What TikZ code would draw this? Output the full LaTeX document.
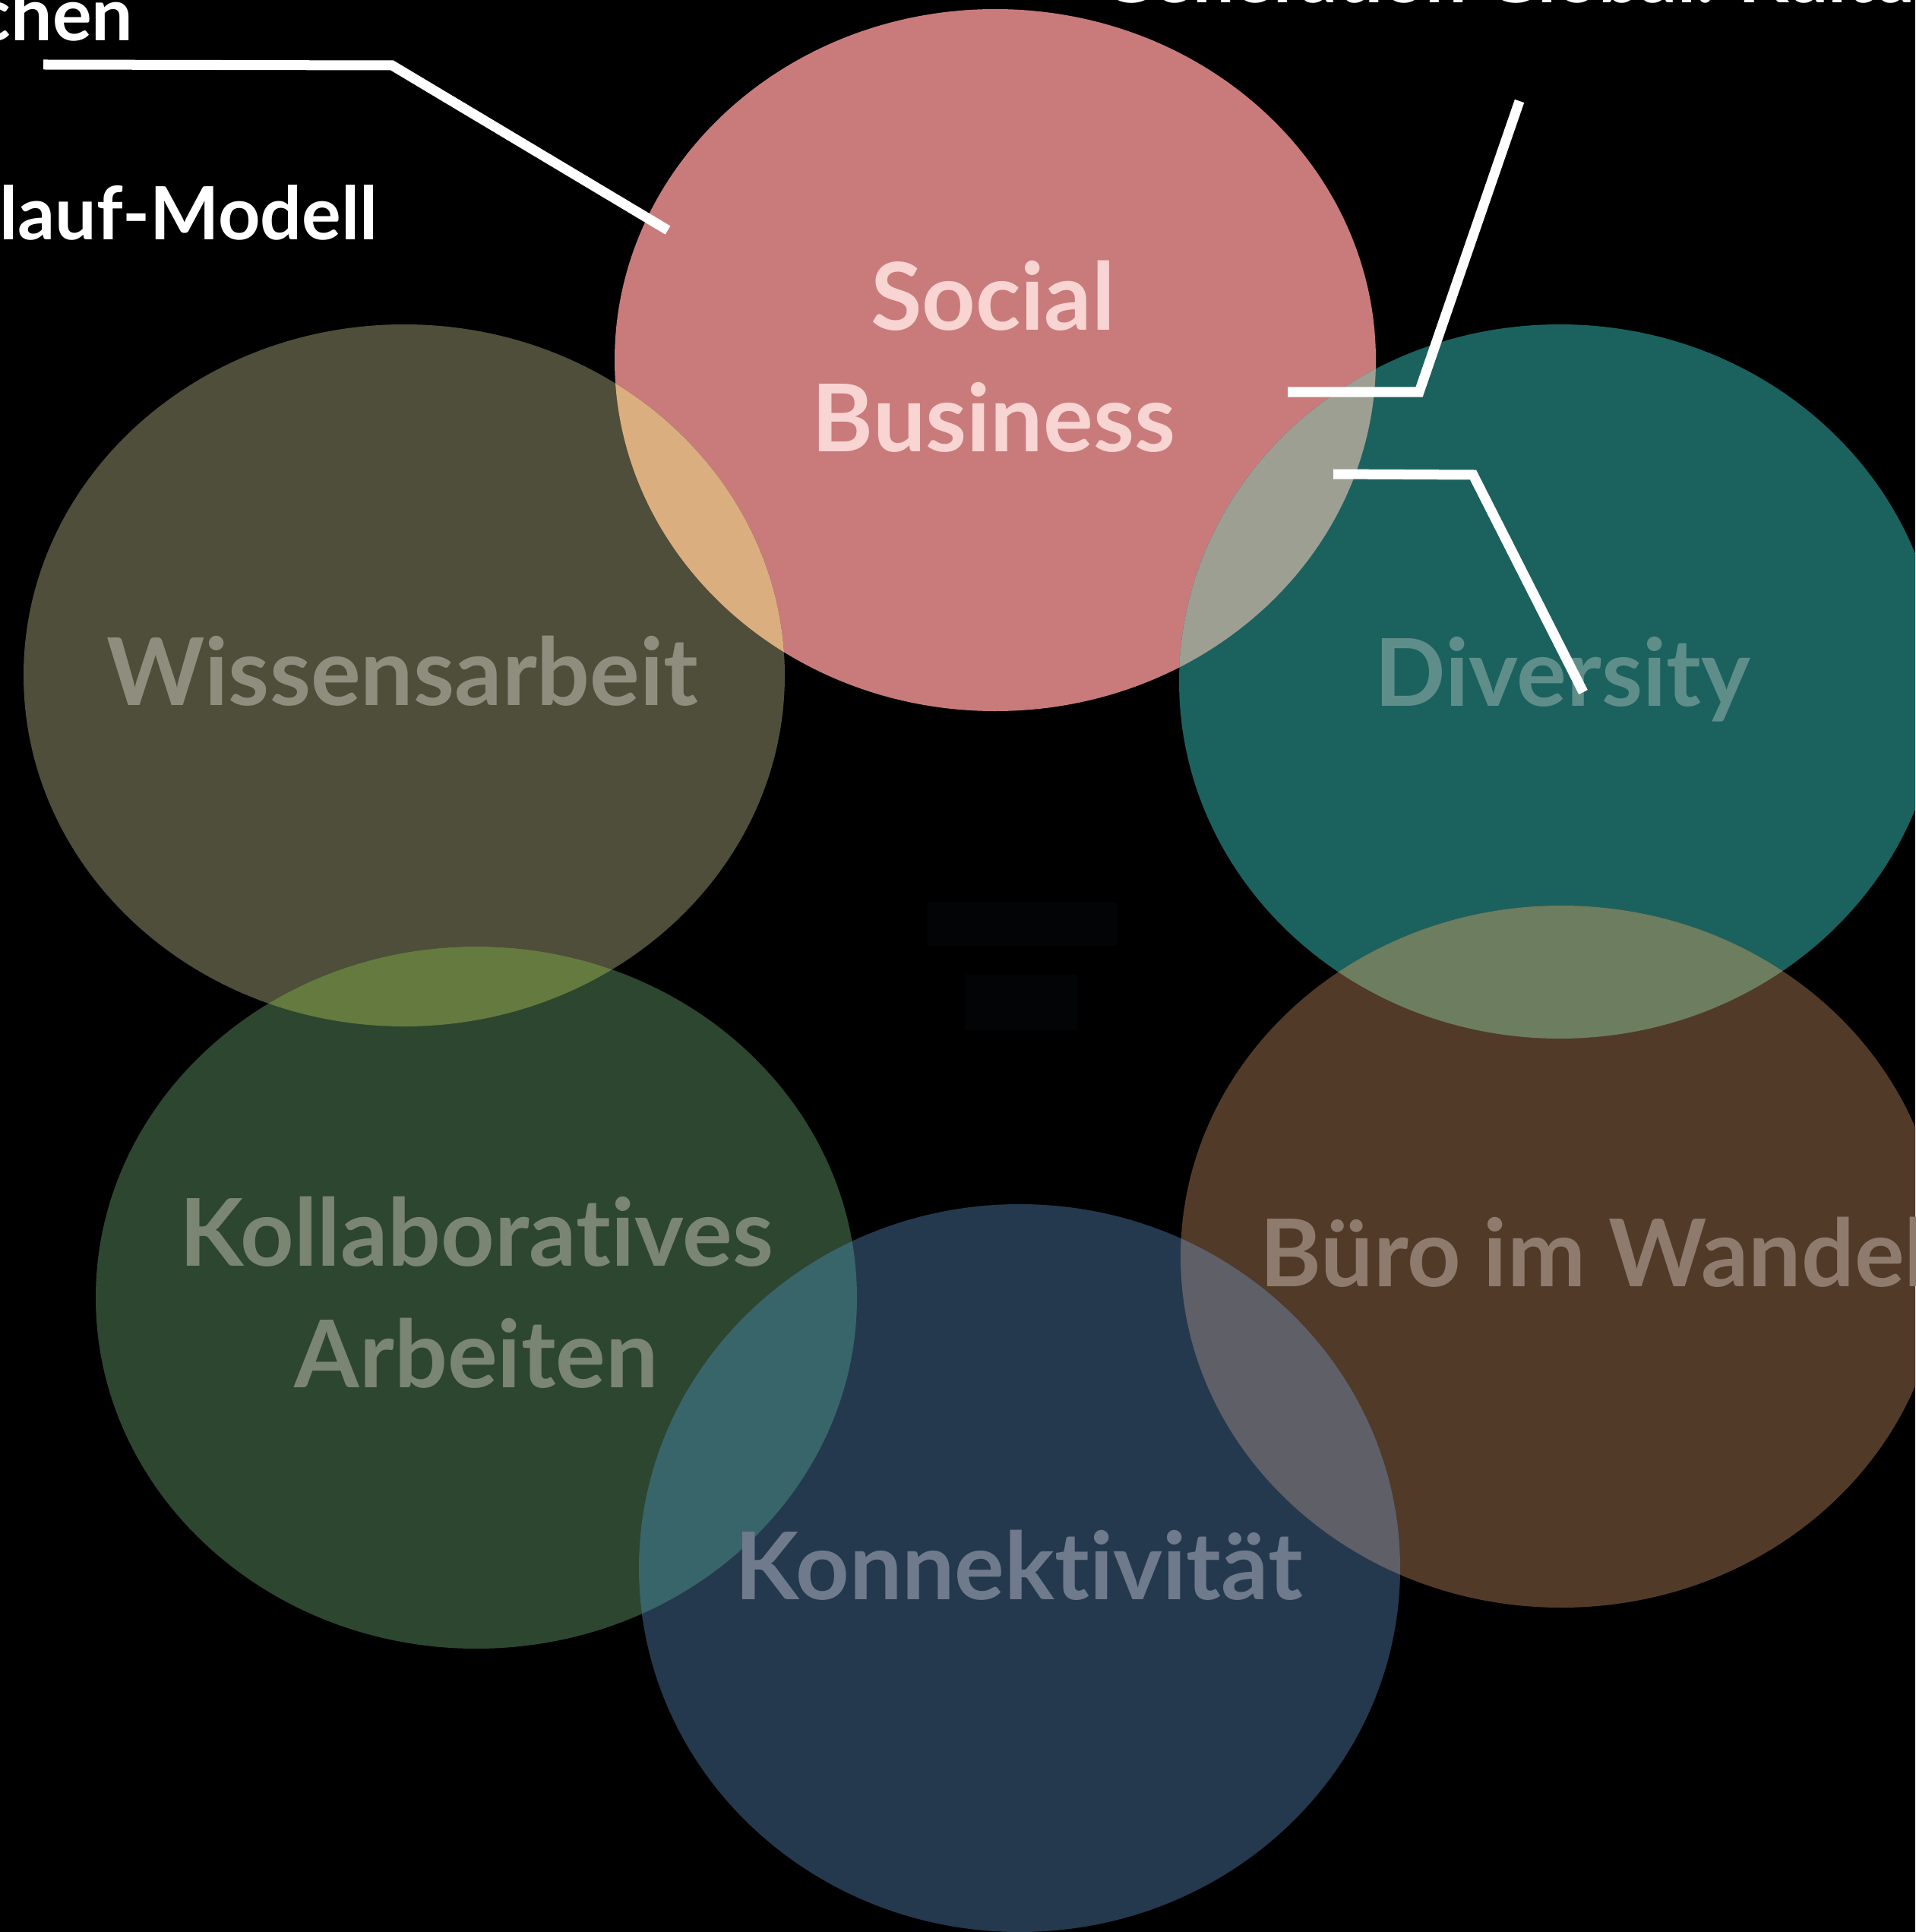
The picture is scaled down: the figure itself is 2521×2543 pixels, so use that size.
\documentclass[tikz,border=0pt]{standalone}
\usepackage{fontspec}
\setmainfont{Lato}[Ligatures={CommonOff,ContextualOff}]
\usetikzlibrary{positioning}

\definecolor{socialfill}{HTML}{C97B7B}
\definecolor{wissenfill}{HTML}{4F4E3A}
\definecolor{diversfill}{HTML}{1B625F}
\definecolor{buerofill}{HTML}{523A29}
\definecolor{kollabfill}{HTML}{2D4630}
\definecolor{konnektfill}{HTML}{24394E}
\definecolor{socialwissen}{HTML}{DBAE80}
\definecolor{socialdivers}{HTML}{9C9F92}
\definecolor{wissenkollab}{HTML}{657A3E}
\definecolor{diversbuero}{HTML}{6C7E5F}
\definecolor{kollabkonnekt}{HTML}{38656A}
\definecolor{buerokonnekt}{HTML}{5F5F67}
\definecolor{socialtext}{HTML}{F8D4D2}
\definecolor{wissentext}{HTML}{8F8E7E}
\definecolor{diverstext}{HTML}{5F8E8A}
\definecolor{buerotext}{HTML}{8F7B6D}
\definecolor{kollabtext}{HTML}{7A8572}
\definecolor{konnekttext}{HTML}{6F7A8C}
\definecolor{hiddenbox}{HTML}{030406}

\def\socialshape{(1310,474) ellipse [x radius=501, y radius=462]}
\def\wissenshape{(532,889) ellipse [x radius=501, y radius=462]}
\def\diversshape{(2053,897) ellipse [x radius=501, y radius=470]}
\def\bueroshape{(2055,1654) ellipse [x radius=501, y radius=462]}
\def\kollabshape{(627,1708) ellipse [x radius=501, y radius=462]}
\def\konnektshape{(1342,2064) ellipse [x radius=501, y radius=479]}
\def\overlap#1#2#3{\begin{scope}\clip #1; \fill[#3] #2;\end{scope}}

\tikzset{
  leader/.style={draw=white, line width=1.3mm, line join=miter},
  bigword/.style={font=\fontsize{35}{42}\selectfont\bfseries, inner sep=0pt, anchor=base},
  sideword/.style={font=\fontsize{27.5}{33}\selectfont\bfseries, text=white, inner sep=0pt},
}

\begin{document}
\begin{tikzpicture}[x=0.01cm, y=-0.01cm]
	%%%%% START %%%%%
	
	\fill[black] (0,0) rectangle (2521,2543);
	\useasboundingbox (0,0) rectangle (2521,2543);
	\clip (0,0) rectangle (2521,2543);
	
	\fill[socialfill] \socialshape;
	\fill[wissenfill] \wissenshape;
	\fill[diversfill] \diversshape;
	\fill[buerofill] \bueroshape;
	\fill[kollabfill] \kollabshape;
	\fill[konnektfill] \konnektshape;
	
	\overlap{\socialshape}{\wissenshape}{socialwissen}
	\overlap{\socialshape}{\diversshape}{socialdivers}
	\overlap{\wissenshape}{\kollabshape}{wissenkollab}
	\overlap{\diversshape}{\bueroshape}{diversbuero}
	\overlap{\kollabshape}{\konnektshape}{kollabkonnekt}
	\overlap{\bueroshape}{\konnektshape}{buerokonnekt}
	
	\fill[hiddenbox] (1220,1187) rectangle (1471,1245);
	\fill[hiddenbox] (1270,1283) rectangle (1418,1356);
	
	\node[bigword, text=socialtext] (social1) at (1307,435) {Social};
	\node[bigword, text=socialtext] (social2) at (1308,594) {Business};
	\node[bigword, text=wissentext] (wissen) at (530,928) {Wissensarbeit};
	\node[bigword, text=diverstext] (divers) at (2057,929) {Diversity};
	\node[bigword, text=kollabtext] (kollab1) at (627,1666) {Kollaboratives};
	\node[bigword, text=kollabtext] (kollab2) at (627,1826) {Arbeiten};
	\node[bigword, text=buerotext, anchor=base west] (buero) at (1658,1693) {Büro im Wandel};
	\node[bigword, text=konnekttext] (konnekt) at (1341,2105) {Konnektivität};
	
	\node[sideword, anchor=base east] (chen) at (176,54) {chen};
	\node[sideword, anchor=base east] (modell) at (498,316) {lauf-Modell};
	\node[sideword, anchor=base west] (generation) at (1448,4) {Generation Global: Kultur};
	
	\coordinate (l1a) at (57,85);
	\coordinate (l1b) at (516,86);
	\coordinate (l1c) at (879,303);
	\draw[leader] (l1a) -- (l1b) -- (l1c);
	
	\coordinate (l2a) at (2000,133);
	\coordinate (l2b) at (1868,516);
	\coordinate (l2c) at (1695,516);
	\draw[leader] (l2a) -- (l2b) -- (l2c);
	
	\coordinate (l3a) at (1755,624);
	\coordinate (l3b) at (1939,625);
	\coordinate (l3c) at (2084,911);
	\draw[leader] (l3a) -- (l3b) -- (l3c);
	
	%%%%% END %%%%%
\end{tikzpicture}
\end{document}
